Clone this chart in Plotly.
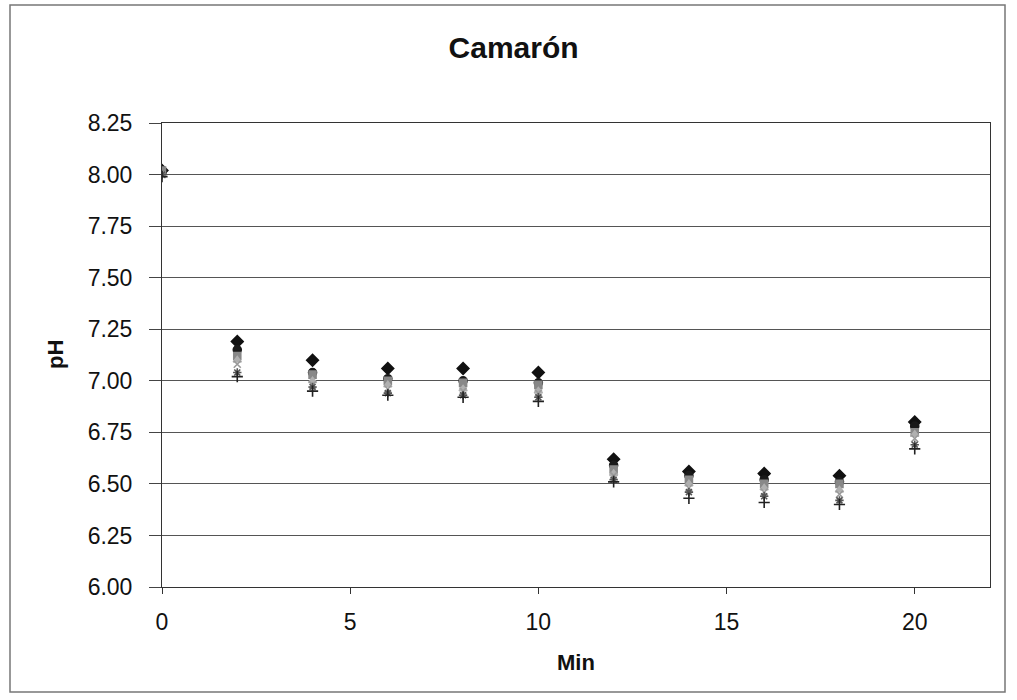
import plotly.graph_objects as go

# Sampling times (min)
minutes = [0, 2, 4, 6, 8, 10, 12, 14, 16, 18, 20]

# pH readings per sample series
ph_a = [8.02, 7.19, 7.10, 7.06, 7.06, 7.04, 6.62, 6.56, 6.55, 6.54, 6.80]
ph_b = [8.01, 7.15, 7.04, 7.01, 7.00, 6.99, 6.59, 6.54, 6.52, 6.51, 6.78]
ph_c = [8.02, 7.12, 7.03, 7.00, 6.99, 6.98, 6.57, 6.52, 6.50, 6.50, 6.75]
ph_d = [8.00, 7.10, 7.00, 6.98, 6.96, 6.95, 6.55, 6.50, 6.48, 6.47, 6.74]
ph_e = [8.00, 7.08, 6.98, 6.96, 6.95, 6.94, 6.54, 6.48, 6.46, 6.45, 6.72]
ph_f = [8.00, 7.04, 6.97, 6.94, 6.93, 6.92, 6.52, 6.46, 6.44, 6.42, 6.69]
ph_g = [7.99, 7.02, 6.95, 6.93, 6.92, 6.90, 6.51, 6.43, 6.41, 6.40, 6.67]

y_ticks = [6.00, 6.25, 6.50, 6.75, 7.00, 7.25, 7.50, 7.75, 8.00, 8.25]
x_ticks = [0, 5, 10, 15, 20]

series = [
    (ph_a, "diamond", "#111111", 9),
    (ph_b, "circle", "#1a1a1a", 8),
    (ph_c, "square", "#888888", 7),
    (ph_d, "triangle-up", "#b0b0b0", 7),
    (ph_e, "x-thin-open", "#9a9a9a", 7),
    (ph_f, "asterisk-open", "#555555", 7),
    (ph_g, "cross-thin-open", "#222222", 8),
]

fig = go.Figure()
for vals, sym, col, size in series:
    fig.add_trace(go.Scatter(
        x=minutes, y=vals, mode="markers",
        marker=dict(symbol=sym, color=col, size=size,
                    line=dict(color=col, width=1.6)),
        showlegend=False,
    ))

FONT = "Liberation Sans, Arial, sans-serif"
axis_font = dict(family=FONT, size=23, color="#111111")

fig.update_xaxes(
    range=[0, 22], tickvals=x_ticks, ticktext=[str(v) for v in x_ticks],
    showgrid=False, zeroline=False,
    showline=True, linecolor="#333333", linewidth=1, mirror=True,
    ticks="outside", ticklen=6, tickcolor="#333333",
    ticklabelstandoff=8,
    tickfont=axis_font,
)
fig.update_yaxes(
    range=[6, 8.25], tickvals=y_ticks, ticktext=[f"{v:.2f}" for v in y_ticks],
    showgrid=True, gridcolor="#555555", gridwidth=1, zeroline=False,
    showline=True, linecolor="#333333", linewidth=1, mirror=True,
    ticks="outside", ticklen=12, tickcolor="#444444",
    ticklabelstandoff=12,
    tickfont=axis_font,
)

fig.update_layout(
    width=1017, height=700,
    margin=dict(l=162, r=27, t=123, b=113),
    paper_bgcolor="white", plot_bgcolor="white",
    title=dict(text="<b>Camarón</b>", x=0.505, xanchor="center",
               y=1 - 47 / 700, yanchor="middle",
               font=dict(family=FONT, size=30, color="#111111")),
    annotations=[
        dict(text="<b>pH</b>", xref="paper", yref="paper", x=(55 - 162) / 828, y=0.50,
             xanchor="center", yanchor="middle", textangle=-90, showarrow=False,
             font=dict(family=FONT, size=22, color="#111111")),
        dict(text="<b>Min</b>", xref="paper", yref="paper", x=0.5, y=(587 - 662) / 464,
             xanchor="center", yanchor="middle", showarrow=False,
             font=dict(family=FONT, size=22, color="#111111")),
    ],
    shapes=[
        dict(type="rect", xref="paper", yref="paper",
             x0=(10 - 162) / 828, x1=(1005 - 162) / 828,
             y0=(587 - 692) / 464, y1=(587 - 5) / 464,
             line=dict(color="#777777", width=1.5)),
    ],
)

fig.write_html("out.html")
